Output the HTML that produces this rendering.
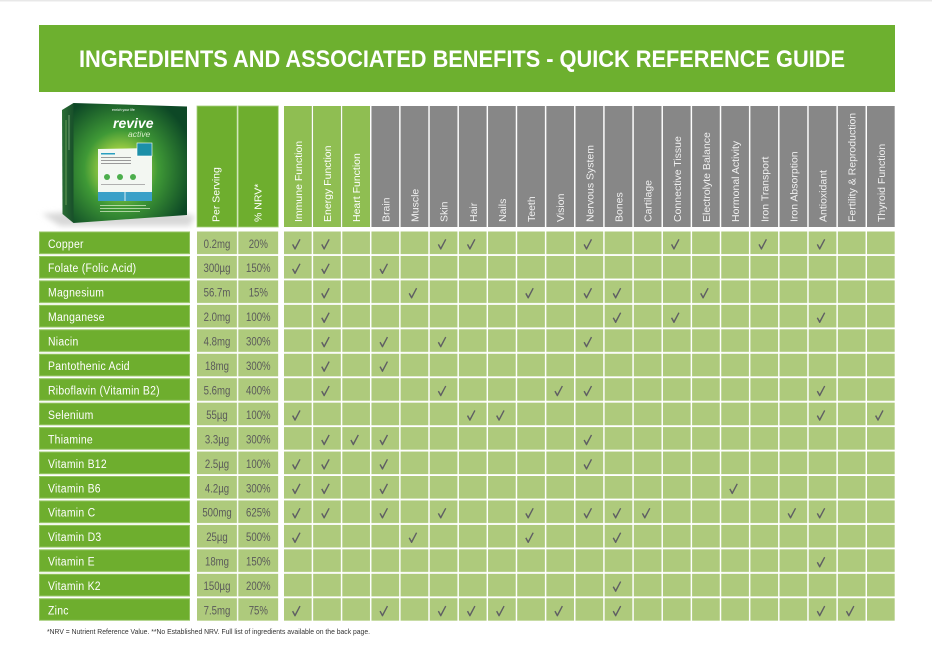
<!DOCTYPE html>
<html><head><meta charset="utf-8"><style>
html,body{margin:0;padding:0;background:#fff;}
svg{display:block;}
</style></head><body>
<svg width="932" height="658" viewBox="0 0 932 658" xmlns="http://www.w3.org/2000/svg" font-family="'Liberation Sans', sans-serif">
<defs>
  <pattern id="gcell" patternUnits="userSpaceOnUse" x="284" y="231.5" width="29.15" height="24.45">
    <rect x="0" y="0" width="27.7" height="22.6" fill="#aeca7c"/>
  </pattern>
  <pattern id="vcell" patternUnits="userSpaceOnUse" x="197" y="231.5" width="41.3" height="24.45">
    <rect x="0" y="0" width="40" height="22.6" fill="#aeca7c"/>
  </pattern>
  <pattern id="ncell" patternUnits="userSpaceOnUse" x="39" y="231.5" width="160" height="24.45">
    <rect x="0" y="0" width="151" height="22.6" fill="#6eae2e"/>
    <rect x="0.5" y="0.5" width="150" height="21.6" fill="none" stroke="#9cc86c" stroke-width="0.8"/>
  </pattern>
  <pattern id="hcell" patternUnits="userSpaceOnUse" x="284" y="106" width="29.15" height="121">
    <rect x="0" y="0" width="27.7" height="121" fill="#878787"/>
  </pattern>
  <radialGradient id="boxg" cx="0.42" cy="0.55" r="0.65">
    <stop offset="0" stop-color="#e6f27a"/>
    <stop offset="0.22" stop-color="#a8d444"/>
    <stop offset="0.5" stop-color="#3f9936"/>
    <stop offset="1" stop-color="#0d4826"/>
  </radialGradient>
  <linearGradient id="sideg" x1="0" y1="0" x2="1" y2="0">
    <stop offset="0" stop-color="#2b6e35"/>
    <stop offset="1" stop-color="#184f2a"/>
  </linearGradient>
  <filter id="blur" x="-20%" y="-50%" width="140%" height="200%"><feGaussianBlur stdDeviation="3"/></filter>
  <path id="ck" d="M0,5.8 L1.2,5.0 L3.0,8.2 L7.4,0 L8.6,0.6 L3.4,10.6 L2.6,10.6 Z" fill="#5f5f63"/>
</defs>

<rect x="0" y="0" width="932" height="1.5" fill="#e8e8e8"/>

<!-- Title -->
<rect x="39" y="25" width="856" height="67" fill="#6db02f"/>
<text x="79" y="67" font-size="24" font-weight="bold" fill="#ffffff" textLength="766" lengthAdjust="spacingAndGlyphs">INGREDIENTS AND ASSOCIATED BENEFITS - QUICK REFERENCE GUIDE</text>

<!-- Product box -->
<polygon points="42,214 150,206 195,216 190,226 60,226" fill="#d8d8d8" filter="url(#blur)"/>
<polygon points="62,110 73.5,103 73.5,223 62.5,214" fill="url(#sideg)"/>
<line x1="66" y1="120" x2="66" y2="205" stroke="#8fc070" stroke-width="1" opacity="0.6"/>
<line x1="69" y1="115" x2="69" y2="150" stroke="#cfe8c0" stroke-width="0.8" opacity="0.6"/>
<polygon points="73.5,103 187,106.5 187,215 73.5,223" fill="url(#boxg)"/>
<text x="112" y="111" font-size="3.5" fill="#ffffff">enrich your life</text>
<text x="113" y="128" font-size="14" font-weight="bold" font-style="italic" fill="#ffffff">revive</text>
<text x="128" y="137" font-size="8.5" font-style="italic" fill="#d6ecc8">active</text>
<polygon points="98,149 152,148 152,196 98,197" fill="#f3f7f2"/>
<rect x="137" y="143" width="15" height="13" fill="#1c8fa8" stroke="#ffffff" stroke-width="0.6"/>
<rect x="101" y="153" width="14" height="1.5" fill="#2a9fc0"/>
<rect x="101" y="157" width="30" height="1" fill="#9a9a9a"/>
<rect x="101" y="160" width="30" height="1" fill="#9a9a9a"/>
<rect x="101" y="163" width="30" height="1" fill="#9a9a9a"/>
<circle cx="107" cy="177" r="3" fill="#4cae4c"/>
<circle cx="120" cy="177" r="3" fill="#4cae4c"/>
<circle cx="133" cy="177" r="3" fill="#4cae4c"/>
<rect x="101" y="184" width="44" height="1" fill="#b0b0b0"/>
<rect x="98" y="192" width="54" height="9" fill="#3aa0c8"/>
<line x1="125" y1="192" x2="125" y2="201" stroke="#ffffff" stroke-width="0.8"/>
<rect x="100" y="205" width="46" height="1" fill="#e0f0d0" opacity="0.7"/>
<rect x="100" y="208" width="50" height="1" fill="#e0f0d0" opacity="0.7"/>
<rect x="100" y="211" width="40" height="1" fill="#e0f0d0" opacity="0.7"/>

<!-- Header cells -->
<rect x="197" y="106" width="40" height="121" fill="#6eae2e" stroke="#a6cf7c" stroke-width="0.8"/>
<rect x="238.3" y="106" width="40" height="121" fill="#6eae2e" stroke="#a6cf7c" stroke-width="0.8"/>
<rect x="284" y="106" width="611" height="121" fill="url(#hcell)"/>
<rect x="284" y="106" width="27.7" height="121" fill="#8fbe52"/>
<rect x="313.15" y="106" width="27.7" height="121" fill="#8fbe52"/>
<rect x="342.3" y="106" width="27.7" height="121" fill="#8fbe52"/>

<g font-size="10.5" fill="#ffffff">
  <text transform="translate(219.5,222) rotate(-90)">Per Serving</text>
  <text transform="translate(261.3,222) rotate(-90)">% NRV*</text>
  <text transform="translate(301.85,222) rotate(-90)">Immune Function</text>
  <text transform="translate(331.0,222) rotate(-90)">Energy Function</text>
  <text transform="translate(360.15,222) rotate(-90)">Heart Function</text>
</g>
<g font-size="10.5" fill="#f0f0f0">
  <text transform="translate(389.3,222) rotate(-90)">Brain</text>
  <text transform="translate(418.45,222) rotate(-90)">Muscle</text>
  <text transform="translate(447.6,222) rotate(-90)">Skin</text>
  <text transform="translate(476.75,222) rotate(-90)">Hair</text>
  <text transform="translate(505.9,222) rotate(-90)">Nails</text>
  <text transform="translate(535.05,222) rotate(-90)">Teeth</text>
  <text transform="translate(564.2,222) rotate(-90)">Vision</text>
  <text transform="translate(593.35,222) rotate(-90)">Nervous System</text>
  <text transform="translate(622.5,222) rotate(-90)">Bones</text>
  <text transform="translate(651.65,222) rotate(-90)">Cartilage</text>
  <text transform="translate(680.8,222) rotate(-90)">Connective Tissue</text>
  <text transform="translate(709.95,222) rotate(-90)">Electrolyte Balance</text>
  <text transform="translate(739.1,222) rotate(-90)">Hormonal Activity</text>
  <text transform="translate(768.25,222) rotate(-90)">Iron Transport</text>
  <text transform="translate(797.4,222) rotate(-90)">Iron Absorption</text>
  <text transform="translate(826.55,222) rotate(-90)">Antioxidant</text>
  <text transform="translate(855.7,222) rotate(-90)">Fertility &amp; Reproduction</text>
  <text transform="translate(884.85,222) rotate(-90)">Thyroid Function</text>
</g>

<!-- Body cells -->
<rect x="39" y="231.5" width="151" height="389.3" fill="url(#ncell)"/>
<rect x="197" y="231.5" width="81.3" height="389.3" fill="url(#vcell)"/>
<rect x="284" y="231.5" width="611" height="389.3" fill="url(#gcell)"/>

<!-- Names -->
<g transform="translate(48 0) scale(0.87 1)" font-size="12" fill="#ffffff" letter-spacing="0.3">
  <text x="0" y="247.8">Copper</text>
  <text x="0" y="272.25">Folate (Folic Acid)</text>
  <text x="0" y="296.7">Magnesium</text>
  <text x="0" y="321.15">Manganese</text>
  <text x="0" y="345.6">Niacin</text>
  <text x="0" y="370.05">Pantothenic Acid</text>
  <text x="0" y="394.5">Riboflavin (Vitamin B2)</text>
  <text x="0" y="418.95">Selenium</text>
  <text x="0" y="443.4">Thiamine</text>
  <text x="0" y="467.85">Vitamin B12</text>
  <text x="0" y="492.3">Vitamin B6</text>
  <text x="0" y="516.75">Vitamin C</text>
  <text x="0" y="541.2">Vitamin D3</text>
  <text x="0" y="565.65">Vitamin E</text>
  <text x="0" y="590.1">Vitamin K2</text>
  <text x="0" y="614.55">Zinc</text>
</g>

<!-- Values -->
<g transform="scale(0.8 1)" font-size="12" fill="#5a5a5a" text-anchor="middle">
  <text x="271.25" y="247.8">0.2mg</text><text x="322.9" y="247.8">20%</text>
  <text x="271.25" y="272.25">300µg</text><text x="322.9" y="272.25">150%</text>
  <text x="271.25" y="296.7">56.7m</text><text x="322.9" y="296.7">15%</text>
  <text x="271.25" y="321.15">2.0mg</text><text x="322.9" y="321.15">100%</text>
  <text x="271.25" y="345.6">4.8mg</text><text x="322.9" y="345.6">300%</text>
  <text x="271.25" y="370.05">18mg</text><text x="322.9" y="370.05">300%</text>
  <text x="271.25" y="394.5">5.6mg</text><text x="322.9" y="394.5">400%</text>
  <text x="271.25" y="418.95">55µg</text><text x="322.9" y="418.95">100%</text>
  <text x="271.25" y="443.4">3.3µg</text><text x="322.9" y="443.4">300%</text>
  <text x="271.25" y="467.85">2.5µg</text><text x="322.9" y="467.85">100%</text>
  <text x="271.25" y="492.3">4.2µg</text><text x="322.9" y="492.3">300%</text>
  <text x="271.25" y="516.75">500mg</text><text x="322.9" y="516.75">625%</text>
  <text x="271.25" y="541.2">25µg</text><text x="322.9" y="541.2">500%</text>
  <text x="271.25" y="565.65">18mg</text><text x="322.9" y="565.65">150%</text>
  <text x="271.25" y="590.1">150µg</text><text x="322.9" y="590.1">200%</text>
  <text x="271.25" y="614.55">7.5mg</text><text x="322.9" y="614.55">75%</text>
</g>

<!-- Checks -->
<!-- Copper -->
<use href="#ck" x="292" y="239"/><use href="#ck" x="321.15" y="239"/><use href="#ck" x="437.75" y="239"/><use href="#ck" x="466.9" y="239"/><use href="#ck" x="583.5" y="239"/><use href="#ck" x="670.95" y="239"/><use href="#ck" x="758.4" y="239"/><use href="#ck" x="816.7" y="239"/>
<!-- Folate -->
<use href="#ck" x="292" y="263.45"/><use href="#ck" x="321.15" y="263.45"/><use href="#ck" x="379.45" y="263.45"/>
<!-- Magnesium -->
<use href="#ck" x="321.15" y="287.9"/><use href="#ck" x="408.6" y="287.9"/><use href="#ck" x="525.2" y="287.9"/><use href="#ck" x="583.5" y="287.9"/><use href="#ck" x="612.65" y="287.9"/><use href="#ck" x="700.1" y="287.9"/>
<!-- Manganese -->
<use href="#ck" x="321.15" y="312.35"/><use href="#ck" x="612.65" y="312.35"/><use href="#ck" x="670.95" y="312.35"/><use href="#ck" x="816.7" y="312.35"/>
<!-- Niacin -->
<use href="#ck" x="321.15" y="336.8"/><use href="#ck" x="379.45" y="336.8"/><use href="#ck" x="437.75" y="336.8"/><use href="#ck" x="583.5" y="336.8"/>
<!-- Pantothenic -->
<use href="#ck" x="321.15" y="361.25"/><use href="#ck" x="379.45" y="361.25"/>
<!-- Riboflavin -->
<use href="#ck" x="321.15" y="385.7"/><use href="#ck" x="437.75" y="385.7"/><use href="#ck" x="554.35" y="385.7"/><use href="#ck" x="583.5" y="385.7"/><use href="#ck" x="816.7" y="385.7"/>
<!-- Selenium -->
<use href="#ck" x="292" y="410.15"/><use href="#ck" x="466.9" y="410.15"/><use href="#ck" x="496.05" y="410.15"/><use href="#ck" x="816.7" y="410.15"/><use href="#ck" x="875" y="410.15"/>
<!-- Thiamine -->
<use href="#ck" x="321.15" y="434.6"/><use href="#ck" x="350.3" y="434.6"/><use href="#ck" x="379.45" y="434.6"/><use href="#ck" x="583.5" y="434.6"/>
<!-- B12 -->
<use href="#ck" x="292" y="459.05"/><use href="#ck" x="321.15" y="459.05"/><use href="#ck" x="379.45" y="459.05"/><use href="#ck" x="583.5" y="459.05"/>
<!-- B6 -->
<use href="#ck" x="292" y="483.5"/><use href="#ck" x="321.15" y="483.5"/><use href="#ck" x="379.45" y="483.5"/><use href="#ck" x="729.25" y="483.5"/>
<!-- Vitamin C -->
<use href="#ck" x="292" y="507.95"/><use href="#ck" x="321.15" y="507.95"/><use href="#ck" x="379.45" y="507.95"/><use href="#ck" x="437.75" y="507.95"/><use href="#ck" x="525.2" y="507.95"/><use href="#ck" x="583.5" y="507.95"/><use href="#ck" x="612.65" y="507.95"/><use href="#ck" x="641.8" y="507.95"/><use href="#ck" x="787.55" y="507.95"/><use href="#ck" x="816.7" y="507.95"/>
<!-- D3 -->
<use href="#ck" x="292" y="532.4"/><use href="#ck" x="408.6" y="532.4"/><use href="#ck" x="525.2" y="532.4"/><use href="#ck" x="612.65" y="532.4"/>
<!-- E -->
<use href="#ck" x="816.7" y="556.85"/>
<!-- K2 -->
<use href="#ck" x="612.65" y="581.3"/>
<!-- Zinc -->
<use href="#ck" x="292" y="605.75"/><use href="#ck" x="379.45" y="605.75"/><use href="#ck" x="437.75" y="605.75"/><use href="#ck" x="466.9" y="605.75"/><use href="#ck" x="496.05" y="605.75"/><use href="#ck" x="554.35" y="605.75"/><use href="#ck" x="612.65" y="605.75"/><use href="#ck" x="816.7" y="605.75"/><use href="#ck" x="845.85" y="605.75"/>

<!-- Footnote -->
<text x="47" y="634" font-size="7.5" fill="#333333" textLength="323" lengthAdjust="spacingAndGlyphs">*NRV = Nutrient Reference Value. **No Established NRV. Full list of ingredients available on the back page.</text>
</svg>
</body></html>
